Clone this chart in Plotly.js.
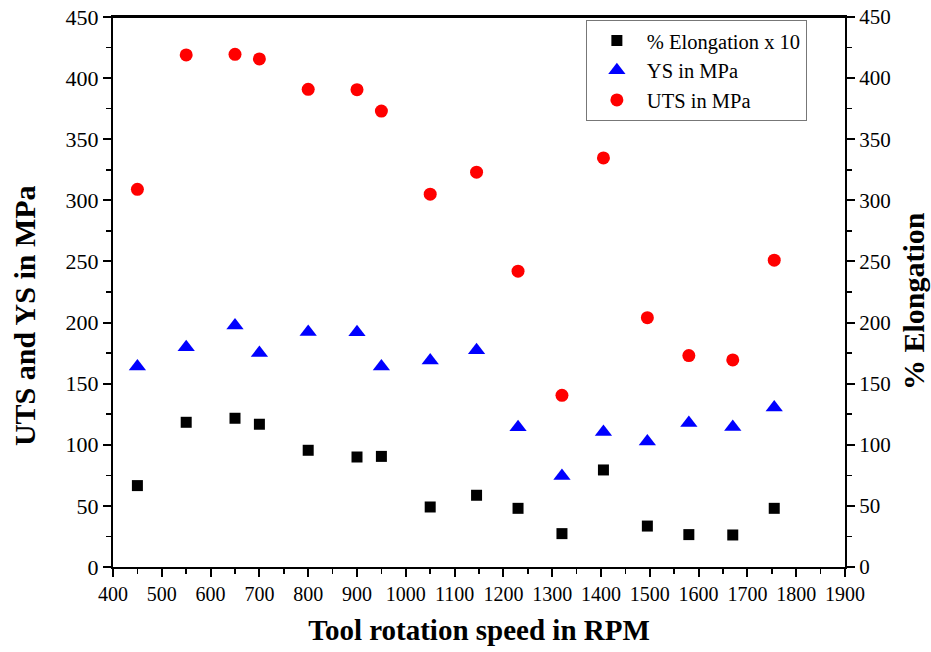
<!DOCTYPE html>
<html>
<head>
<meta charset="utf-8">
<script src="https://cdn.plot.ly/plotly-3.0.1.min.js"></script>
<style>html,body{margin:0;padding:0;background:#fff;}#chart{width:931px;height:652px;}</style>
</head>
<body>
<div id="chart"></div>
<script>
const rpm = [450, 550, 650, 700, 800, 900, 950, 1050, 1145, 1230, 1320, 1405, 1495, 1580, 1670, 1755];
const elongationX10 = [66.6, 118.4, 121.7, 116.8, 95.5, 90, 90.5, 49.1, 58.7, 48, 27.3, 79.4, 33.5, 26.5, 26.2, 48];
const ysMPa = [164, 179.8, 197.5, 175, 192.3, 192, 164, 169, 177.3, 114.3, 74.5, 110.5, 102.6, 117.8, 114.5, 130.4];
const utsMPa = [309, 419, 419.5, 415.7, 390.8, 390.5, 373, 305, 323, 242, 140.5, 334.7, 204, 173, 169.4, 251];
const seriesNames = ['% Elongation x 10', 'YS in MPa', 'UTS in MPa'];
const leftTitle = 'UTS and YS in MPa';
const rightTitle = '% Elongation';
const bottomTitle = 'Tool rotation speed in RPM';

const font = "'Liberation Serif', 'Times New Roman', serif";
const traces = [
  {x: rpm, y: elongationX10, name: seriesNames[0], mode: 'markers', type: 'scatter',
   marker: {symbol: 'square', color: '#000000', size: 11}},
  {x: rpm, y: ysMPa, name: seriesNames[1], mode: 'markers', type: 'scatter',
   marker: {symbol: 'triangle-up', color: '#0000ff', size: 15}},
  {x: rpm, y: utsMPa, name: seriesNames[2], mode: 'markers', type: 'scatter',
   marker: {symbol: 'circle', color: '#ff0000', size: 13}},
  {x: [rpm[0]], y: [0], yaxis: 'y2', mode: 'markers', type: 'scatter', showlegend: false,
   hoverinfo: 'skip', marker: {opacity: 0}}
];

const axisCommon = {
  showline: true, linecolor: '#000', linewidth: 2,
  ticks: 'outside', ticklen: 8, tickwidth: 2, tickcolor: '#000',
  showgrid: false, zeroline: false
};
const minorTicks = {ticklen: 5, tickwidth: 1.5, tickcolor: '#000', ticks: 'outside'};

const layout = {
  width: 931, height: 652,
  margin: {l: 113, r: 86, t: 17, b: 85},
  paper_bgcolor: '#fff', plot_bgcolor: '#fff',
  font: {family: font, color: '#000'},
  showlegend: true,
  legend: {
    x: 0.646, y: 0.995, xanchor: 'left', yanchor: 'top',
    bordercolor: '#777', borderwidth: 1, bgcolor: '#fff',
    font: {family: font, size: 20.5, color: '#000'},
    itemwidth: 50, tracegroupgap: 0
  },
  xaxis: Object.assign({}, axisCommon, {
    range: [400, 1900], dtick: 100, tick0: 400, mirror: true,
    tickfont: {family: font, size: 20, color: '#000'},
    minor: Object.assign({dtick: 50}, minorTicks),
    title: {text: '<b>' + bottomTitle + '</b>', font: {family: font, size: 29, color: '#000'}, standoff: 16}
  }),
  yaxis: Object.assign({}, axisCommon, {
    range: [0, 450], dtick: 50, tick0: 0,
    tickfont: {family: font, size: 22, color: '#000'},
    minor: Object.assign({dtick: 25}, minorTicks)
  }),
  yaxis2: Object.assign({}, axisCommon, {
    overlaying: 'y', side: 'right', range: [0, 450], dtick: 50, tick0: 0,
    tickfont: {family: font, size: 21, color: '#000'},
    minor: Object.assign({dtick: 25}, minorTicks)
  }),
  annotations: [
    {text: '<b>' + leftTitle + '</b>', xref: 'paper', yref: 'paper', x: -0.1216, y: 0.458,
     xanchor: 'center', yanchor: 'middle', textangle: -90, showarrow: false,
     font: {family: font, size: 30, color: '#000'}},
    {text: '<b>' + rightTitle + '</b>', xref: 'paper', yref: 'paper', x: 1.0929, y: 0.4836,
     xanchor: 'center', yanchor: 'middle', textangle: -90, showarrow: false,
     font: {family: font, size: 30, color: '#000'}}
  ],
  shapes: [
    {type: 'line', xref: 'paper', yref: 'paper', x0: 0, x1: 1, y0: 1, y1: 1, line: {color: '#000', width: 2}}
  ]
};

Plotly.newPlot('chart', traces, layout, {displayModeBar: false, staticPlot: true});
</script>
</body>
</html>
